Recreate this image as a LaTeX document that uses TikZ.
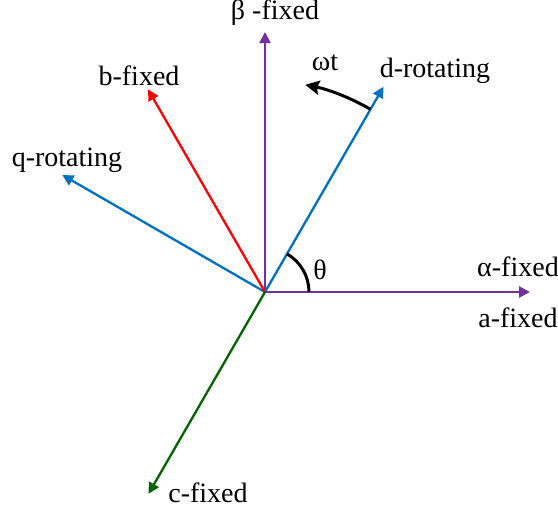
\documentclass[tikz,border=0pt]{standalone}
\usepackage{fontspec}
\setmainfont{Liberation Serif}
\usetikzlibrary{arrows.meta,calc}
\definecolor{axpurple}{RGB}{112,48,160}
\definecolor{axblue}{RGB}{0,112,192}
\definecolor{axred}{RGB}{255,0,0}
\definecolor{axgreen}{RGB}{0,100,0}
\tikzset{
  axis/.style={line width=1.15pt,-{Triangle[length=5.5pt,width=5.5pt]}},
  lbl/.style={font=\fontsize{14}{16}\selectfont,inner sep=0pt},
  anglearc/.style={line width=1.5pt,black}
}
\begin{document}
\begin{tikzpicture}[x=0.5pt,y=-0.5pt]
\useasboundingbox (0,0) rectangle (558,509);
\coordinate (O) at (265,292);
\coordinate (beta) at (265,32);
\coordinate (alpha) at ($(O)+(265,0)$);
\coordinate (d) at ($(O)+(60:237 and -237)$);
\coordinate (q) at ($(O)+(150:234 and -234)$);
\coordinate (b) at ($(O)+(120:234 and -234)$);
\coordinate (c) at ($(O)+(240:233 and -233)$);
\draw[axis,axpurple] (O) -- (beta);
\draw[axis,axpurple] (O) -- (alpha);
\draw[axis,axblue] (O) -- (d);
\draw[axis,axblue] (O) -- (q);
\draw[axis,axred] (O) -- (b);
\draw[axis,axgreen] (O) -- (c);
\draw[anglearc] ($(O)+(44,0)$) arc[start angle=0,end angle=-60,x radius=44,y radius=44];
\draw[anglearc,-{Stealth[length=7pt,width=7pt,inset=1pt]}] ($(O)+(60:211 and -211)$) arc[start angle=-60,end angle=-79,x radius=211,y radius=211];
\node[lbl] (lbeta) at (275,13) {β -fixed};
\node[lbl] (lalpha) at (518,267) {α-fixed};
\node[lbl] (la) at (518,318) {a-fixed};
\node[lbl] (ld) at (435,71) {d-rotating};
\node[lbl] (lw) at (325,63) {ωt};
\node[lbl] (lth) at (320,270) {θ};
\node[lbl] (lb) at (139,76) {b-fixed};
\node[lbl] (lq) at (67,160) {q-rotating};
\node[lbl] (lc) at (208,493) {c-fixed};
\end{tikzpicture}
\end{document}
